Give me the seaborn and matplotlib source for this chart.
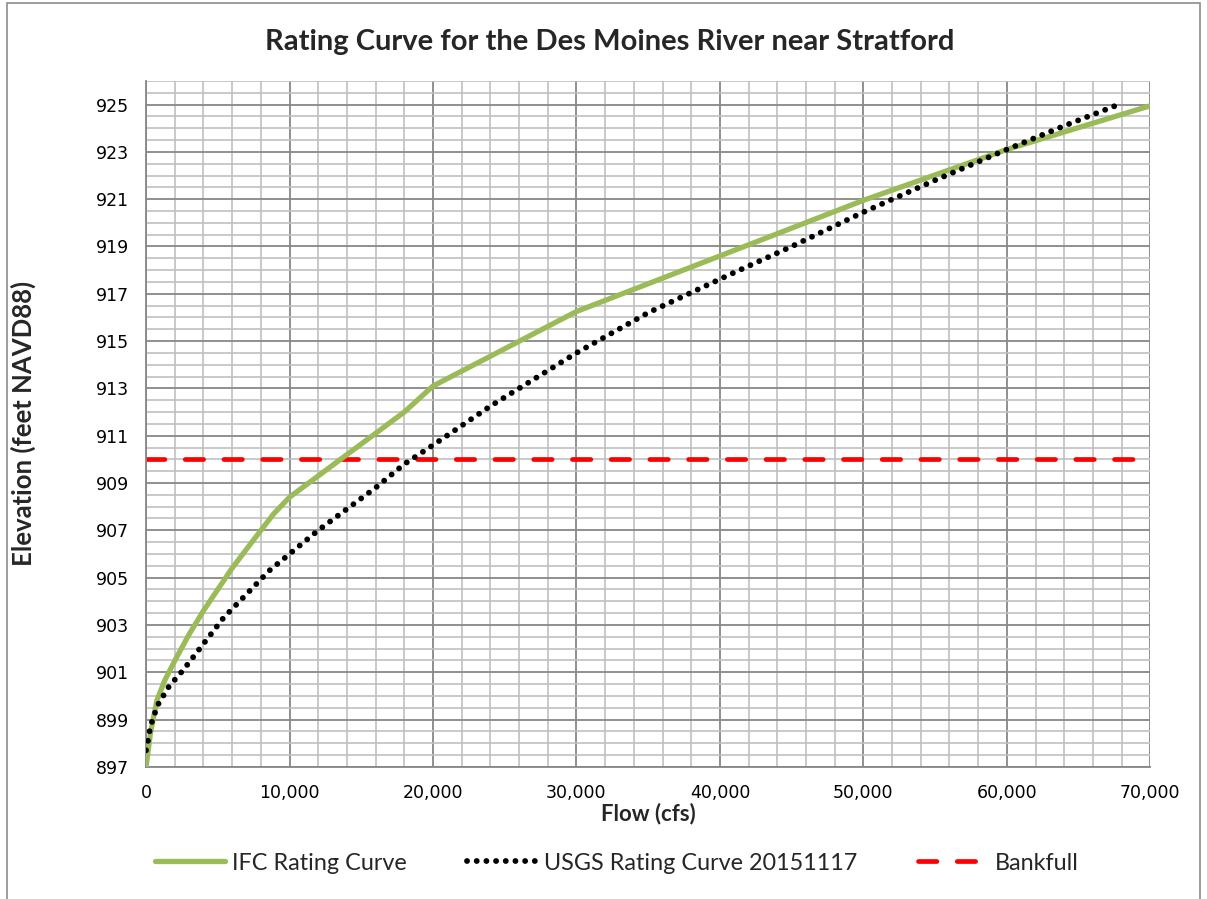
import matplotlib
matplotlib.use("Agg")
import matplotlib.pyplot as plt
from matplotlib.patches import Rectangle
from matplotlib.ticker import MultipleLocator, FuncFormatter
import numpy as np
import pandas as pd
import seaborn as sns

# IFC rating curve (flow in cfs, elevation in feet NAVD88)
ifc_flow = [0, 300, 750, 1300, 2100, 3000, 4000, 5000, 6000, 7500, 8900, 10000,
            12000, 15000, 18000, 20000, 30000, 40000, 50000, 60000, 70000]
ifc_elev = [897.0, 898.4, 899.8, 900.65, 901.6, 902.6, 903.6, 904.5, 905.4, 906.6, 907.7, 908.4,
            909.3, 910.65, 912.0, 913.1, 916.25, 918.6, 920.95, 923.1, 924.95]

# USGS rating curve 20151117
usgs_flow = [0, 50, 300, 800, 1600, 2600, 4000, 5400, 7000, 8600, 10000, 12000, 14000,
             16000, 18000, 20000, 24000, 30000, 35000, 41000, 45000, 50000, 55000,
             60000, 64000, 68000]
usgs_elev = [897.7, 897.8, 898.7, 899.6, 900.4, 901.1, 902.2, 903.3, 904.3, 905.3, 906.0,
             907.0, 907.9, 908.8, 909.8, 910.6, 912.25, 914.5, 916.2, 917.9, 919.0, 920.45,
             921.8, 923.1, 924.1, 925.05]

# bankfull elevation
bank_flow = [0, 70000]
bank_elev = [910, 910]

sns.set_theme(style="white")
plt.rcParams["font.family"] = ["DejaVu Sans"]
title_font = ["Lato", "DejaVu Sans"]

fig = plt.figure(figsize=(12.07, 8.99), dpi=100)
ax = fig.add_axes([0.121, 0.147, 0.832, 0.763])

ifc = pd.DataFrame({"flow": ifc_flow, "elev": ifc_elev})
usgs = pd.DataFrame({"flow": usgs_flow, "elev": usgs_elev})
bank = pd.DataFrame({"flow": bank_flow, "elev": bank_elev})

sns.lineplot(data=ifc, x="flow", y="elev", ax=ax, color="#9BBB59", linewidth=3.8,
             label="IFC Rating Curve", zorder=3)
sns.lineplot(data=usgs, x="flow", y="elev", ax=ax, color="black", linewidth=4.2,
             linestyle=(0, (0.01, 1.65)), dash_capstyle="round",
             label="USGS Rating Curve 20151117", zorder=4)
sns.lineplot(data=bank, x="flow", y="elev", ax=ax, color="#FF0000", linewidth=3.4,
             linestyle=(0, (3.9, 4.3)), dash_capstyle="round",
             label="Bankfull", zorder=2)

ax.set_xlim(0, 70000)
ax.set_ylim(897, 926)
ax.set_yticks(np.arange(897, 926, 2))
ax.xaxis.set_major_locator(MultipleLocator(10000))
ax.xaxis.set_minor_locator(MultipleLocator(2000))
ax.yaxis.set_minor_locator(MultipleLocator(0.5))
ax.xaxis.set_major_formatter(FuncFormatter(lambda v, p: f"{int(v):,}"))

ax.grid(which="major", color="#878787", linewidth=1.3)
ax.grid(which="minor", color="#C0C0C0", linewidth=1.2)
ax.set_axisbelow(True)
for side in ["top", "right"]:
    ax.spines[side].set_visible(False)
for side in ["left", "bottom"]:
    ax.spines[side].set_color("#878787")
    ax.spines[side].set_linewidth(1.3)

ax.tick_params(which="major", length=6, width=1.2, color="#878787",
               labelsize=12.5, labelcolor="black", pad=6)
ax.tick_params(which="minor", length=0)

ax.set_xlabel("Flow (cfs)", fontsize=16, fontweight="bold", family=title_font, labelpad=1)
ax.set_ylabel("Elevation (feet NAVD88)", fontsize=18.5, fontweight="bold", family=title_font)
ax.yaxis.set_label_coords(-0.11, 0.5)
fig.suptitle("Rating Curve for the Des Moines River near Stratford", x=0.505, y=0.968,
             fontsize=21, fontweight="bold", family=title_font)

ax.get_legend().remove()
handles, labels = ax.get_legend_handles_labels()
fig.legend(handles, labels, loc="center", bbox_to_anchor=(0.511, 0.04), ncol=3,
           frameon=False, prop={"family": title_font, "size": 16.8},
           handlelength=3.0, handletextpad=0.3, columnspacing=2.6)

fig.patches.append(Rectangle((0.006, -0.01), 0.988, 1.007, transform=fig.transFigure,
                             fill=False, edgecolor="#8C8C8C", linewidth=1.2))

fig.savefig("out.png", dpi=100)
